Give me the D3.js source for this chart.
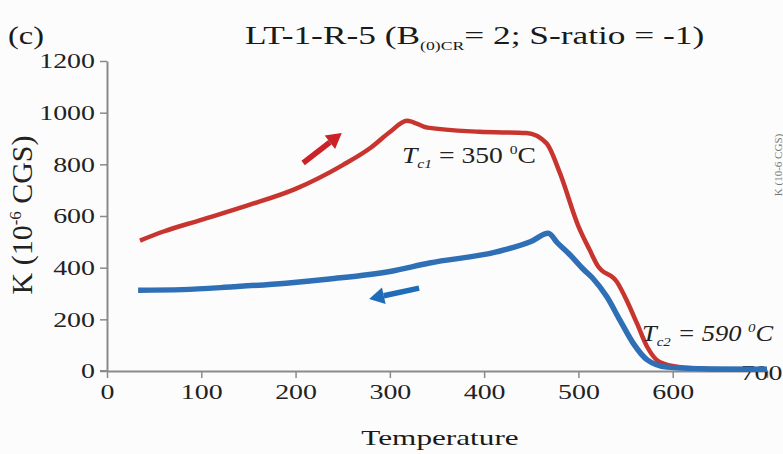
<!DOCTYPE html>
<html><head><meta charset="utf-8">
<script src="https://cdn.jsdelivr.net/npm/d3@7"></script>
<style>html,body{margin:0;padding:0;background:#fcfcfc;overflow:hidden}</style>
</head><body><svg id="c" width="783" height="454"></svg>
<script>
// Heating curve (red) : [temperature, K]
const heatingT = [35, 60, 100, 150, 200, 250, 280, 300, 318, 340, 395, 445, 466, 480, 500, 512, 520, 541, 551, 562, 573, 586, 608, 640, 700];
const heatingK = [505, 540, 585, 642, 705, 797, 865, 925, 969, 942, 926, 921, 882, 770, 560, 468, 410, 344, 275, 185, 93, 35, 15, 8, 5];
// Cooling curve (blue)
const coolingT = [33, 80, 134, 190, 236, 300, 342, 413, 449, 468, 478, 491, 505, 515, 530, 544, 558, 573, 594, 640, 700];
const coolingK = [313, 315, 326, 340, 356, 385, 418, 461, 500, 533, 495, 450, 395, 360, 288, 197, 108, 43, 15, 8, 7];
const xTicks = [0, 100, 200, 300, 400, 500, 600, 700];
const yTicks = [0, 200, 400, 600, 800, 1000, 1200];
// arrows [T, K] tail -> tip
const redArrow = [[208, 805], [249, 921]];
const blueArrow = [[331, 321], [278, 279]];

const svg = d3.select("#c");
const x = d3.scaleLinear().domain([0, 700]).range([107, 767]);
const y = d3.scaleLinear().domain([0, 1200]).range([371, 61]);
const axisColor = "#8a8a8a";
const serif = "'Liberation Serif','DejaVu Serif',serif";
const SX = 1.33;

// axes
const xa = svg.append("g").attr("transform", "translate(0,371)")
  .call(d3.axisBottom(x).tickValues(xTicks).tickFormat(d3.format("d")).tickSize(7).tickSizeOuter(0).tickPadding(6));
const ya = svg.append("g").attr("transform", "translate(107,0)")
  .call(d3.axisLeft(y).tickValues(yTicks).tickFormat(d3.format("d")).tickSize(7).tickSizeOuter(0).tickPadding(5));
[xa, ya].forEach(a => {
  a.select(".domain").attr("stroke", axisColor).attr("stroke-width", 2);
  a.selectAll(".tick line").attr("stroke", axisColor).attr("stroke-width", 1.5);
  a.selectAll("text").attr("font-family", serif).attr("font-size", 21).attr("fill", "#222");
});
ya.selectAll(".tick text").attr("x", -12 / SX).attr("transform", `scale(${SX},1)`);
xa.selectAll(".tick text").attr("transform", `scale(${SX},1)`);
xa.selectAll(".tick").filter(d => d === 700).select("text")
  .attr("text-anchor", "end").attr("x", 15 / SX).attr("dy", "-0.2em");
// extend x axis a bit left of y axis
svg.append("line").attr("x1", 100).attr("x2", 107).attr("y1", 371).attr("y2", 371).attr("stroke", axisColor).attr("stroke-width", 2);

// curves
const line = d3.line().x(d => x(d[0])).y(d => y(d[1])).curve(d3.curveMonotoneX);
svg.append("path").datum(heatingT.map((t, i) => [t, heatingK[i]]))
  .attr("d", line).attr("fill", "none").attr("stroke", "#c8342e").attr("stroke-width", 4.5).attr("stroke-linejoin", "round");
svg.append("path").datum(coolingT.map((t, i) => [t, coolingK[i]]))
  .attr("d", line).attr("fill", "none").attr("stroke", "#2f6fb6").attr("stroke-width", 5.5).attr("stroke-linejoin", "round");

// arrows
function arrow(a, color) {
  const x1 = x(a[0][0]), y1 = y(a[0][1]), x2 = x(a[1][0]), y2 = y(a[1][1]);
  const ang = Math.atan2(y2 - y1, x2 - x1);
  const hl = 15, hw = 8.5;
  const bx = x2 - hl * Math.cos(ang), by = y2 - hl * Math.sin(ang);
  svg.append("line").attr("x1", x1).attr("y1", y1).attr("x2", bx).attr("y2", by)
    .attr("stroke", color).attr("stroke-width", 5.5);
  const px = -Math.sin(ang), py = Math.cos(ang);
  svg.append("path").attr("d", `M${x2},${y2}L${bx + px * hw},${by + py * hw}L${bx - px * hw},${by - py * hw}Z`).attr("fill", color);
}
arrow(redArrow, "#cc2127");
arrow(blueArrow, "#1f6cb8");

// stretched text helper
function stext(xp, yp, sx, size, anchor) {
  return svg.append("g").attr("transform", `translate(${xp},${yp}) scale(${sx},1)`)
    .append("text").attr("font-family", serif).attr("font-size", size).attr("fill", "#1a1a1a")
    .attr("text-anchor", anchor || "start");
}

stext(8, 44, 1.25, 26).text("(c)");
const title = stext(245, 44, 1.36, 26);
title.append("tspan").text("LT-1-R-5 (B");
title.append("tspan").attr("font-size", 13).attr("dy", 6).text("(0)CR");
title.append("tspan").attr("dy", -6).text("= 2; S-ratio = -1)");

svg.append("g").attr("transform", "translate(32,215) rotate(-90) scale(1.2,1.15)")
  .append("text").attr("text-anchor", "middle")
  .attr("font-family", serif).attr("font-size", 25).attr("fill", "#222")
  .html('K (10<tspan font-size="14" dy="-10">-6</tspan><tspan dy="10"> CGS)</tspan>');
stext(440, 445, 1.42, 22, "middle").text("Temperature");

const t1 = stext(402, 163, 1.2, 23);
t1.attr("fill", "#222");
t1.append("tspan").attr("font-style", "italic").text("T");
t1.append("tspan").attr("font-style", "italic").attr("font-size", 13).attr("dy", 5).text("c1");
t1.append("tspan").attr("dy", -5).text(" = 350 ");
t1.append("tspan").attr("font-size", 13).attr("dy", -9).text("0");
t1.append("tspan").attr("dy", 9).text("C");

const t2 = stext(642, 341, 1.15, 23).attr("font-style", "italic").attr("fill", "#222");
t2.append("tspan").text("T");
t2.append("tspan").attr("font-size", 13).attr("dy", 5).text("c2");
t2.append("tspan").attr("dy", -5).text(" = 590 ");
t2.append("tspan").attr("font-size", 13).attr("dy", -9).text("0");
t2.append("tspan").attr("dy", 9).text("C");

// neighbouring panel's axis label at the right edge
svg.append("text").attr("transform", "translate(782,165) rotate(-90)").attr("text-anchor", "middle")
  .attr("font-family", serif).attr("font-size", 11).attr("fill", "#777").text("K (10-6 CGS)");
</script></body></html>
